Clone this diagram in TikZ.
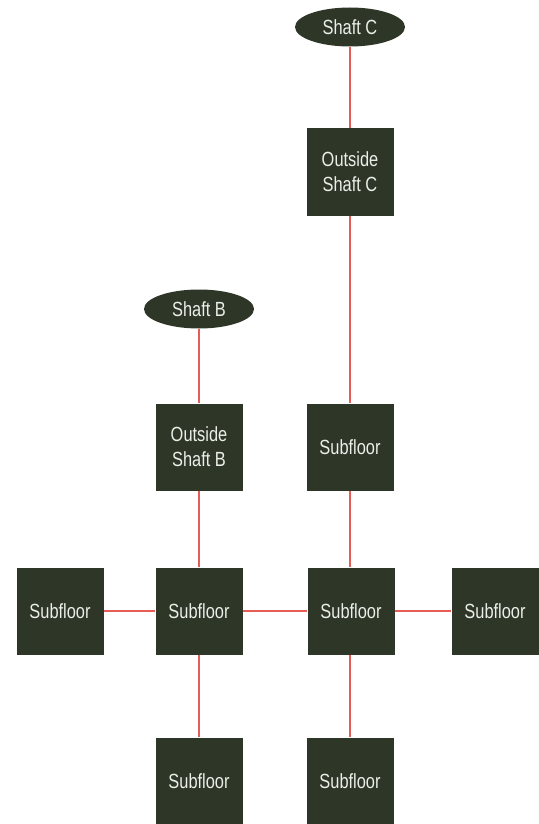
\documentclass[tikz,border=0pt]{standalone}
\usepackage{fontspec}
\setmainfont[FakeStretch=0.8]{Liberation Sans}
\usetikzlibrary{shapes.geometric}
\definecolor{boxgreen}{RGB}{46,54,40}
\definecolor{linkred}{RGB}{232,92,88}
\definecolor{labelgray}{RGB}{236,238,232}

\begin{document}
\begin{tikzpicture}[x=1pt, y=-1pt,
  room/.style = {fill=boxgreen, text=labelgray, minimum size=87pt, inner sep=0pt,
    align=center, font=\fontsize{20.5pt}{25pt}\selectfont},
  shaft/.style = {ellipse, fill=boxgreen, text=labelgray, minimum width=110pt,
    minimum height=39pt, inner sep=0pt, font=\fontsize{20.5pt}{25pt}\selectfont},
  link/.style = {draw=linkred, line width=2pt}]
\useasboundingbox (0,0) rectangle (538,824);
\node[shaft](sc) at (350,27) {Shaft C};
\node[room](osc) at (350,172) {Outside\\Shaft C};
\node[shaft](sb) at (199,309) {Shaft B};
\node[room](osb) at (199,447) {Outside\\Shaft B};
\node[room](s1) at (350,447) {Subfloor};
\node[room](s2) at (60,611) {Subfloor};
\node[room](s3) at (199,611) {Subfloor};
\node[room](s4) at (351,611) {Subfloor};
\node[room](s5) at (495,611) {Subfloor};
\node[room](s6) at (199,781) {Subfloor};
\node[room](s7) at (350,781) {Subfloor};
\draw[link] (sc) -- (osc);
\draw[link] (osc) -- (s1);
\draw[link] (s1) -- (s1 |- s4.north);
\draw[link] (sb) -- (osb);
\draw[link] (osb) -- (s3);
\draw[link] (s2) -- (s3);
\draw[link] (s3) -- (s4);
\draw[link] (s4) -- (s5);
\draw[link] (s3) -- (s6);
\draw[link] (s7 |- s4.south) -- (s7);
\end{tikzpicture}
\end{document}
